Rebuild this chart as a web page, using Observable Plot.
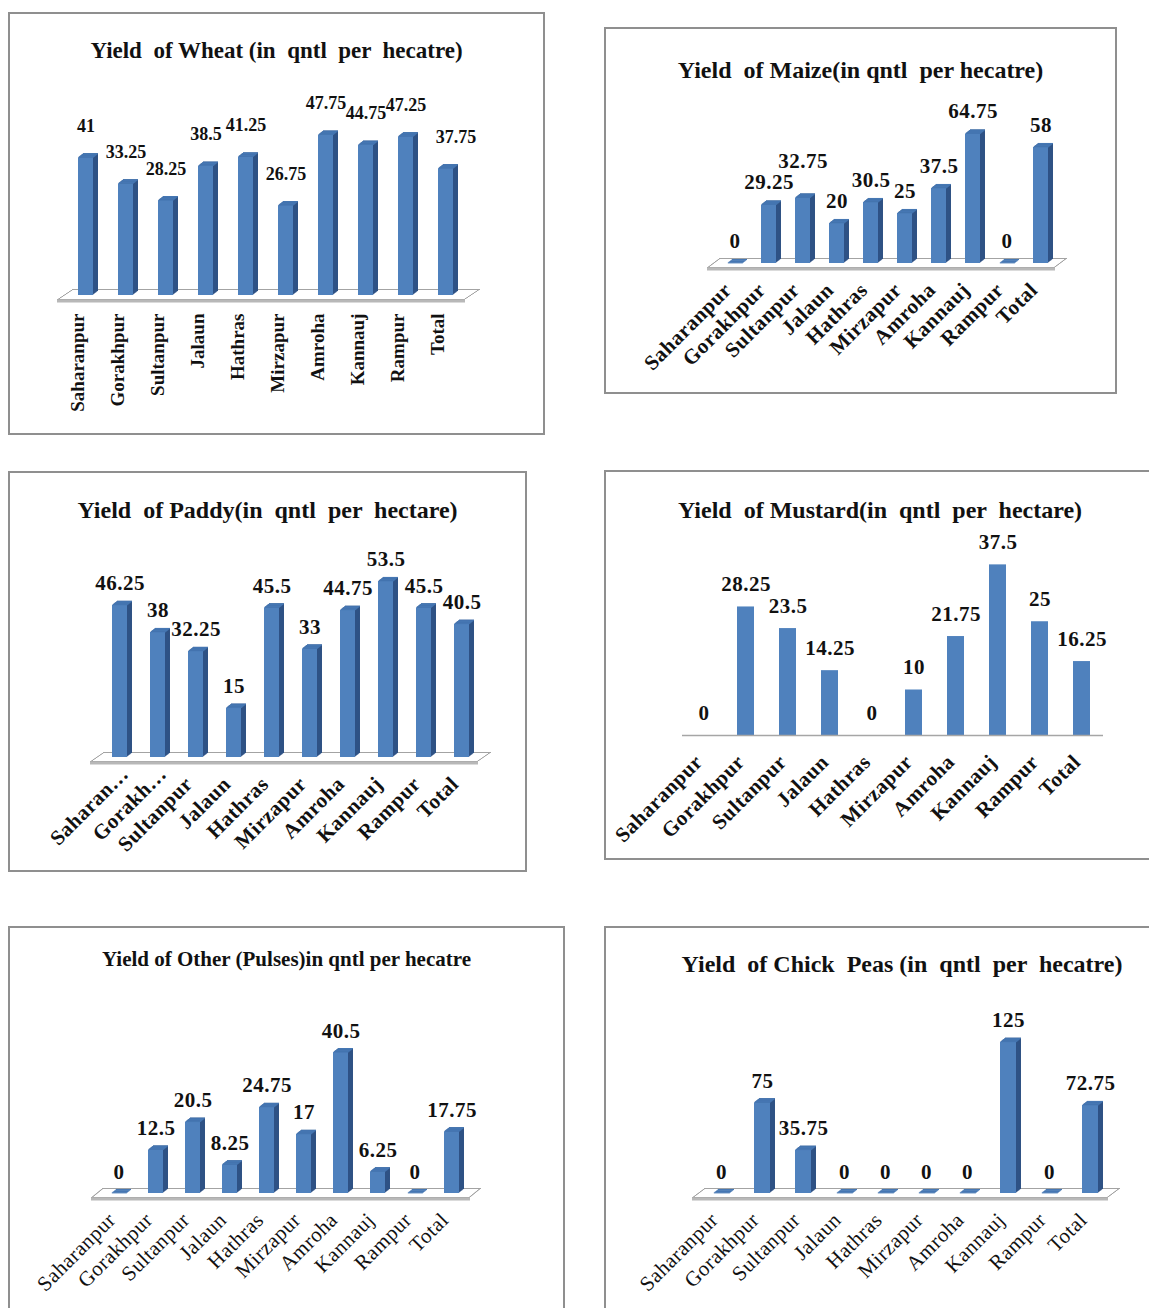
<!DOCTYPE html>
<html>
<head>
<meta charset="utf-8">
<script src="https://cdn.jsdelivr.net/npm/d3@7"></script>
<script src="https://cdn.jsdelivr.net/npm/@observablehq/plot@0.6"></script>
<style>
  html, body { margin: 0; padding: 0; background: #fff; }
  body { position: relative; width: 1149px; height: 1308px; overflow: hidden;
         font-family: "Liberation Serif", "Times New Roman", serif; }
  .panel { position: absolute; box-sizing: border-box; border: 2px solid #8f8f8f; background: #fff; overflow: hidden; }
  .panel .title { position: absolute; left: 0; right: 0; text-align: center; font-weight: bold;
                  color: #111; white-space: pre; line-height: 1; }
  .panel svg { position: absolute; left: 0; top: 0; }
</style>
</head>
<body>
<script>
// Districts surveyed, plus the overall figure
const districts = ["Saharanpur", "Gorakhpur", "Sultanpur", "Jalaun", "Hathras",
                   "Mirzapur", "Amroha", "Kannauj", "Rampur", "Total"];
// Shortened tick labels used on the paddy chart
const paddyTicks = ["Saharan…", "Gorakh…", "Sultanpur", "Jalaun", "Hathras",
                    "Mirzapur", "Amroha", "Kannauj", "Rampur", "Total"];

// Yield per crop, quintals per hectare, in district order
const wheat     = [41, 33.25, 28.25, 38.5, 41.25, 26.75, 47.75, 44.75, 47.25, 37.75];
const maize     = [0, 29.25, 32.75, 20, 30.5, 25, 37.5, 64.75, 0, 58];
const paddy     = [46.25, 38, 32.25, 15, 45.5, 33, 44.75, 53.5, 45.5, 40.5];
const mustard   = [0, 28.25, 23.5, 14.25, 0, 10, 21.75, 37.5, 25, 16.25];
const pulses    = [0, 12.5, 20.5, 8.25, 24.75, 17, 40.5, 6.25, 0, 17.75];
const chickPeas = [0, 75, 35.75, 0, 0, 0, 0, 125, 0, 72.75];

const titles = {
  wheat:   "Yield  of Wheat (in  qntl  per  hecatre)",
  maize:   "Yield  of Maize(in qntl  per hecatre)",
  paddy:   "Yield  of Paddy(in  qntl  per  hectare)",
  mustard: "Yield  of Mustard(in  qntl  per  hectare)",
  pulses:  "Yield of Other (Pulses)in qntl per hecatre",
  chick:   "Yield  of Chick  Peas (in  qntl  per  hecatre)"
};

const FRONT = "#4F81BD", SIDE = "#2F5285", TOP = "#4677B3";

// Page layout of each panel: box, plot frame, band step, baseline and pixels per quintal
const panels = [
  {key: "wheat", values: wheat, box: [8, 12, 537, 423], titleBase: 58, titleSize: 23,
   frame: [57, 465], first: 75, step: 40.56, bw: 15, base: 295, k: 3.36, gap: 26, labelSize: 18,
   rotate: -90, tickPadding: 18, tickDx: -8, tickFont: 19, tickWeight: "bold", spacing: 0,
   floor: [15, 10], threeD: true, shift: {Total: [10, 0]}},
  {key: "maize", values: maize, box: [604, 27, 513, 367], titleBase: 78, titleSize: 24,
   frame: [707, 1055], first: 722, step: 34.75, bw: 15, base: 263, k: 2.0, gap: 16, labelSize: 21,
   rotate: -45, tickPadding: 23, tickDx: -7, tickFont: 21, tickWeight: "bold", spacing: 0.5,
   floor: [12, 9], threeD: true, shift: {Sultanpur: [0, -14]}},
  {key: "paddy", values: paddy, box: [8, 471, 519, 401], titleBase: 518, titleSize: 24, ticks: paddyTicks,
   frame: [90, 478], first: 108, step: 38.6, bw: 15, base: 757, k: 3.29, gap: 15, labelSize: 21,
   rotate: -45, tickPadding: 23, tickDx: -7, tickFont: 21, tickWeight: "bold", spacing: 0.5,
   floor: [13, 9], threeD: true,
   tickNudge: {names: ["Saharanpur", "Gorakhpur"], dx: 5, padding: 13}},
  {key: "mustard", values: mustard, box: [604, 470, 552, 390], titleBase: 518, titleSize: 24,
   frame: [682, 1103], first: 695, step: 42, bw: 17, base: 735, k: 4.55, gap: 16, labelSize: 21,
   rotate: -45, tickPadding: 23, tickDx: -5, tickFont: 21, tickWeight: "bold", spacing: 0.5,
   threeD: false},
  {key: "pulses", values: pulses, box: [8, 926, 557, 400], titleBase: 967, titleSize: 21,
   frame: [91, 470], first: 107.4, step: 37.6, bw: 15, base: 1193, k: 3.48, gap: 15, labelSize: 21,
   rotate: -45, tickPadding: 23, tickDx: -7, tickFont: 21, tickWeight: "normal", spacing: 0.5,
   floor: [11, 9], threeD: true},
  {key: "chick", values: chickPeas, box: [604, 926, 596, 400], titleBase: 972, titleSize: 24,
   frame: [692, 1108], first: 709.5, step: 41.5, bw: 16, base: 1193, k: 1.21, gap: 15, labelSize: 21,
   rotate: -45, tickPadding: 23, tickDx: -7, tickFont: 21, tickWeight: "normal", spacing: 0.5,
   floor: [12, 9], threeD: true}
];

// Thin slab the 3D columns stand on, built from stacked offset rules
function floorMarks([fx, fy]) {
  const marks = [], N = Math.round(fy);
  for (let j = 0; j <= N; ++j)
    marks.push(Plot.ruleY([0], {dx: j * fx / N, dy: 4 - j * fy / N, stroke: "#a3a3a3", strokeWidth: 1}));
  for (let j = 1; j < N; ++j)
    marks.push(Plot.ruleY([0], {dx: j * fx / N, dy: 4 - j * fy / N, stroke: "#fff", strokeWidth: 1.2,
                                insetLeft: 1.6, insetRight: 1.6}));
  marks.push(Plot.ruleY([0], {dy: 5.5, stroke: "#b8b8b8", strokeWidth: 3}));
  return marks;
}

// Extruded columns: dark side layers, front face, then the lit top face
function columnMarks(data) {
  const marks = [], D = 6, ddx = 5, ddy = 4;
  for (let j = D; j >= 1; --j)
    marks.push(Plot.barY(data, {x: "district", y: "value", fill: SIDE, dx: j * ddx / D, dy: -j * ddy / D}));
  marks.push(Plot.barY(data, {x: "district", y: "value", fill: FRONT}));
  for (let j = 1; j <= D; ++j)
    marks.push(Plot.tickY(data, {x: "district", y: "value", stroke: TOP, strokeWidth: 1.1,
                                 dx: j * ddx / D, dy: -j * ddy / D}));
  return marks;
}

// Value labels above each column; a few are nudged clear of their neighbours
function labelMarks(data, p) {
  const shift = p.shift || {};
  const opts = (dx, dy, filter) => ({x: "district", y: "value", text: d => String(d.value), filter,
    dx, dy: -p.gap + dy, lineAnchor: "bottom", fontSize: p.labelSize, fontWeight: "bold", fill: "#111"});
  const marks = [Plot.text(data, opts(0, 0, d => !(d.district in shift)))];
  for (const [name, [dx, dy]] of Object.entries(shift))
    marks.push(Plot.text(data, opts(dx, dy, d => d.district === name)));
  return marks;
}

// District axis; shortened labels can sit on their own slightly shifted axis
function axisMarks(p, axisOpts) {
  const nudge = p.tickNudge;
  if (!nudge) return [Plot.axisX({...axisOpts, dx: p.tickDx})];
  return [
    Plot.axisX({...axisOpts, dx: p.tickDx, ticks: districts.filter(d => !nudge.names.includes(d))}),
    Plot.axisX({...axisOpts, dx: nudge.dx, tickPadding: nudge.padding, ticks: nudge.names})
  ];
}

for (const p of panels) {
  const el = document.createElement("div");
  el.className = "panel";
  Object.assign(el.style, {left: p.box[0] + "px", top: p.box[1] + "px",
                           width: p.box[2] + "px", height: p.box[3] + "px"});
  const ox = p.box[0] + 2, oy = p.box[1] + 2;
  const W = p.box[2] - 4, H = p.box[3] - 4;

  const data = districts.map((district, i) => ({district, value: p.values[i]}));
  const L = p.frame[0] - ox, R = p.frame[1] - ox, base = p.base - oy;
  const n = districts.length;
  const paddingInner = 1 - p.bw / p.step;
  const outer = (R - L) / p.step - (n - paddingInner);
  const ymax = d3.max(p.values);

  const axisOpts = {tickSize: 0, tickPadding: p.tickPadding, tickRotate: p.rotate, label: null,
                    tickFormat: p.ticks ? (d => p.ticks[districts.indexOf(d)]) : (d => d)};

  const marks = [];
  if (p.threeD) {
    marks.push(...floorMarks(p.floor), ...columnMarks(data));
  } else {
    marks.push(Plot.barY(data, {x: "district", y: "value", fill: FRONT}));
    marks.push(Plot.ruleY([0], {stroke: "#a6a6a6", strokeWidth: 1.5}));
  }
  marks.push(...labelMarks(data, p));
  if (Plot.axisX) marks.push(...axisMarks(p, axisOpts));

  const chart = Plot.plot({
    width: W, height: H,
    marginLeft: L, marginRight: W - R, marginTop: 0, marginBottom: H - base,
    x: {domain: districts, paddingInner, paddingOuter: outer / 2,
        align: (p.first - ox - L) / (outer * p.step),
        ...(Plot.axisX ? {} : axisOpts)},
    y: {domain: [0, ymax], range: [base, base - ymax * p.k], axis: null},
    style: {fontFamily: "'Liberation Serif', 'Times New Roman', serif", fontSize: p.tickFont + "px",
            fontWeight: p.tickWeight, letterSpacing: p.spacing + "px", color: "#111",
            background: "transparent", overflow: "visible"},
    marks
  });

  const title = document.createElement("div");
  title.className = "title";
  title.textContent = titles[p.key];
  title.style.fontSize = p.titleSize + "px";
  title.style.top = (p.titleBase - oy - 0.8375 * p.titleSize) + "px";

  el.appendChild(chart);
  el.appendChild(title);
  document.body.appendChild(el);
}
</script>
</body>
</html>
